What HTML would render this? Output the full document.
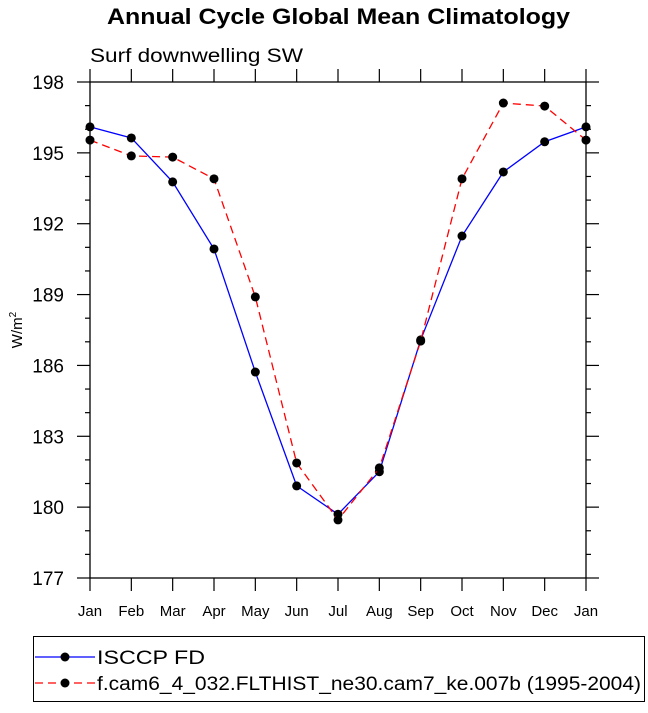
<!DOCTYPE html>
<html><head><meta charset="utf-8"><style>
body{margin:0;background:#fff;width:648px;height:708px;overflow:hidden}
svg text{font-family:"Liberation Sans",Arial,sans-serif}
</style></head><body>
<svg id="chart" width="648" height="708" xmlns="http://www.w3.org/2000/svg">
<text x="107" y="24" textLength="463" lengthAdjust="spacingAndGlyphs" font-size="22" font-weight="bold">Annual Cycle Global Mean Climatology</text>
<text x="90" y="62" textLength="213" lengthAdjust="spacingAndGlyphs" font-size="19">Surf downwelling SW</text>
<text transform="translate(22,330) rotate(-90)" text-anchor="middle" font-size="15">W/m<tspan dy="-6" font-size="10">2</tspan></text>
<g id="axes"></g>
<g id="series"></g>
<g>
<rect x="33.5" y="636.5" width="611" height="65" fill="none" stroke="#000" stroke-width="1"/>
<line x1="35" y1="657" x2="95" y2="657" stroke="#0000ff" stroke-width="1.3"/>
<circle cx="65" cy="657" r="4.5" fill="#000"/>
<text x="97" y="664" textLength="108" lengthAdjust="spacingAndGlyphs" font-size="19">ISCCP FD</text>
<line x1="35" y1="683" x2="95" y2="683" stroke="#ff0000" stroke-width="1.3" stroke-dasharray="8,5"/>
<circle cx="65" cy="683" r="4.5" fill="#000"/>
<text x="97" y="690" textLength="544" lengthAdjust="spacingAndGlyphs" font-size="19">f.cam6_4_032.FLTHIST_ne30.cam7_ke.007b (1995-2004)</text>
</g>
</svg>
<script>
const months=["Jan","Feb","Mar","Apr","May","Jun","Jul","Aug","Sep","Oct","Nov","Dec","Jan"];
const isccp=[196.1,195.63,193.77,190.93,185.72,180.9,179.7,181.5,187.08,191.48,194.19,195.47,196.1];
const cam6=[195.54,194.87,194.82,193.9,188.9,181.87,179.46,181.66,187.03,193.9,197.11,196.98,195.54];
const yTicks=[177,180,183,186,189,192,195,198];
const X0=90,X1=586,Y0=82,Y1=578,YMIN=177,YMAX=198;
const xs=i=>X0+(X1-X0)*i/12;
const ys=v=>Y1-(v-YMIN)/(YMAX-YMIN)*(Y1-Y0);
const NS="http://www.w3.org/2000/svg";
function mk(tag,attrs,parent){const e=document.createElementNS(NS,tag);for(const k in attrs)e.setAttribute(k,attrs[k]);parent.appendChild(e);return e;}
const ax=document.getElementById("axes");
const frame=mk("rect",{x:X0,y:Y0,width:X1-X0,height:Y1-Y0,fill:"none",stroke:"#000","stroke-width":1.3},ax);


for(let v=YMIN;v<=YMAX;v++){
  const major=yTicks.includes(v);const L=major?13:5;const y=ys(v);
  mk("line",{x1:X0-L,y1:y,x2:X0,y2:y,stroke:"#000","stroke-width":1.2},ax);
  mk("line",{x1:X1,y1:y,x2:X1+L,y2:y,stroke:"#000","stroke-width":1.2},ax);
}
yTicks.forEach(v=>{
  const t=mk("text",{x:X0-26,y:ys(v)+7,"text-anchor":"end","font-size":19},ax);
  t.textContent=v;
  
  
});
months.forEach((m,i)=>{
  const x=xs(i);
  mk("line",{x1:x,y1:Y1,x2:x,y2:Y1+13,stroke:"#000","stroke-width":1.2},ax);
  mk("line",{x1:x,y1:Y0-13,x2:x,y2:Y0,stroke:"#000","stroke-width":1.2},ax);
  const t=mk("text",{x:x,y:Y1+38,"text-anchor":"middle","font-size":15},ax);
  t.textContent=m;
  
  
});
const sg=document.getElementById("series");
function drawSeries(vals,color,dash,name){
  const pts=vals.map((v,i)=>xs(i)+","+ys(v)).join(" ");
  const pl=mk("polyline",{points:pts,fill:"none",stroke:color,"stroke-width":1.3},sg);
  if(dash)pl.setAttribute("stroke-dasharray",dash);
  
  
  vals.forEach((v,i)=>{
    const c=mk("circle",{cx:xs(i),cy:ys(v),r:4.5,fill:"#000"},sg);
    
    
  });
}
drawSeries(isccp,"#0000ff",null,"isccp");
drawSeries(cam6,"#ff0000","8,5","cam6");
</script>
</body></html>
